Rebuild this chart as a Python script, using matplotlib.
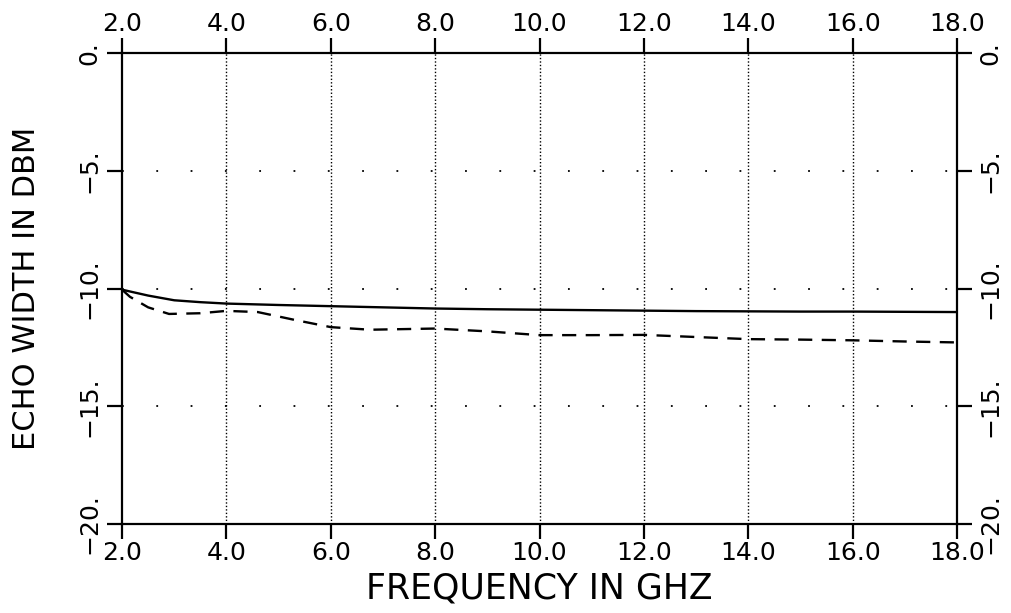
import numpy as np
import matplotlib.pyplot as plt

# frequency (GHz) and echo width (dBm)
freq_solid = [2.0, 2.5, 3.0, 3.5, 4.0, 5.0, 6.0, 7.0, 8.0, 9.0, 10.0,
              11.0, 12.0, 13.0, 14.0, 15.0, 16.0, 17.0, 18.0]
echo_solid = [-10.05, -10.3, -10.5, -10.58, -10.64, -10.7, -10.75, -10.8, -10.85, -10.88, -10.9,
              -10.92, -10.94, -10.96, -10.97, -10.98, -10.98, -10.99, -11.0]

freq_dashed = [2.0, 2.15, 2.5, 2.9, 3.5, 4.0, 4.6, 5.3, 6.0, 6.75, 8.0, 9.0,
               10.0, 11.0, 12.0, 13.0, 14.0, 15.0, 16.0, 17.0, 18.0]
echo_dashed = [-10.05, -10.35, -10.8, -11.08, -11.05, -10.95, -11.0, -11.33, -11.64, -11.75,
               -11.7, -11.82, -11.98, -11.98, -11.97, -12.06, -12.15, -12.17, -12.2, -12.25, -12.29]

xticks = np.arange(2.0, 18.1, 2.0)
yticks = [0, -5, -10, -15, -20]
xticklabels = ["%.1f" % v for v in xticks]
yticklabels = ["0.", "\u22125.", "\u221210.", "\u221215.", "\u221220."]

plt.rcParams['font.family'] = 'DejaVu Sans'

fig = plt.figure(figsize=(10.12, 6.13), dpi=100)
ax = fig.add_axes([0.1206, 0.1452, 0.8251, 0.7683])

ax.plot(freq_solid, echo_solid, color='black', lw=1.7)
ax.plot(freq_dashed, echo_dashed, color='black', lw=1.7, linestyle=(0, (6, 4)))

ax.set_xlim(2.0, 18.0)
ax.set_ylim(-20, 0)

# sparse grid like the original plotter output
for x in xticks[1:-1]:
    ax.axvline(x, color='black', lw=1.0, linestyle=(0, (1, 1.5)))
for y in [-5, -10, -15]:
    ax.axhline(y, color='black', lw=1.3, linestyle=(0, (1, 18)))

for s in ax.spines.values():
    s.set_linewidth(1.6)

ax.set_xticks(xticks)
ax.set_xticklabels(xticklabels)
ax.set_yticks(yticks)
ax.set_yticklabels(yticklabels)
ax.tick_params(axis='x', which='major', direction='out', length=11, width=1.6,
               top=True, labeltop=True, bottom=True, labelbottom=True,
               labelsize=18, pad=1)
ax.tick_params(axis='y', which='major', direction='out', length=11, width=1.6,
               left=True, right=True, labelleft=True, labelright=True,
               labelsize=18, pad=4)
for t in ax.yaxis.get_major_ticks():
    for lab in (t.label1, t.label2):
        lab.set_rotation(90)
        lab.set_va('center')

ax.set_xlabel('FREQUENCY IN GHZ', fontsize=25, labelpad=5)
ax.set_ylabel('ECHO WIDTH IN DBM', fontsize=22, labelpad=26)

fig.savefig('out.png', dpi=100)
